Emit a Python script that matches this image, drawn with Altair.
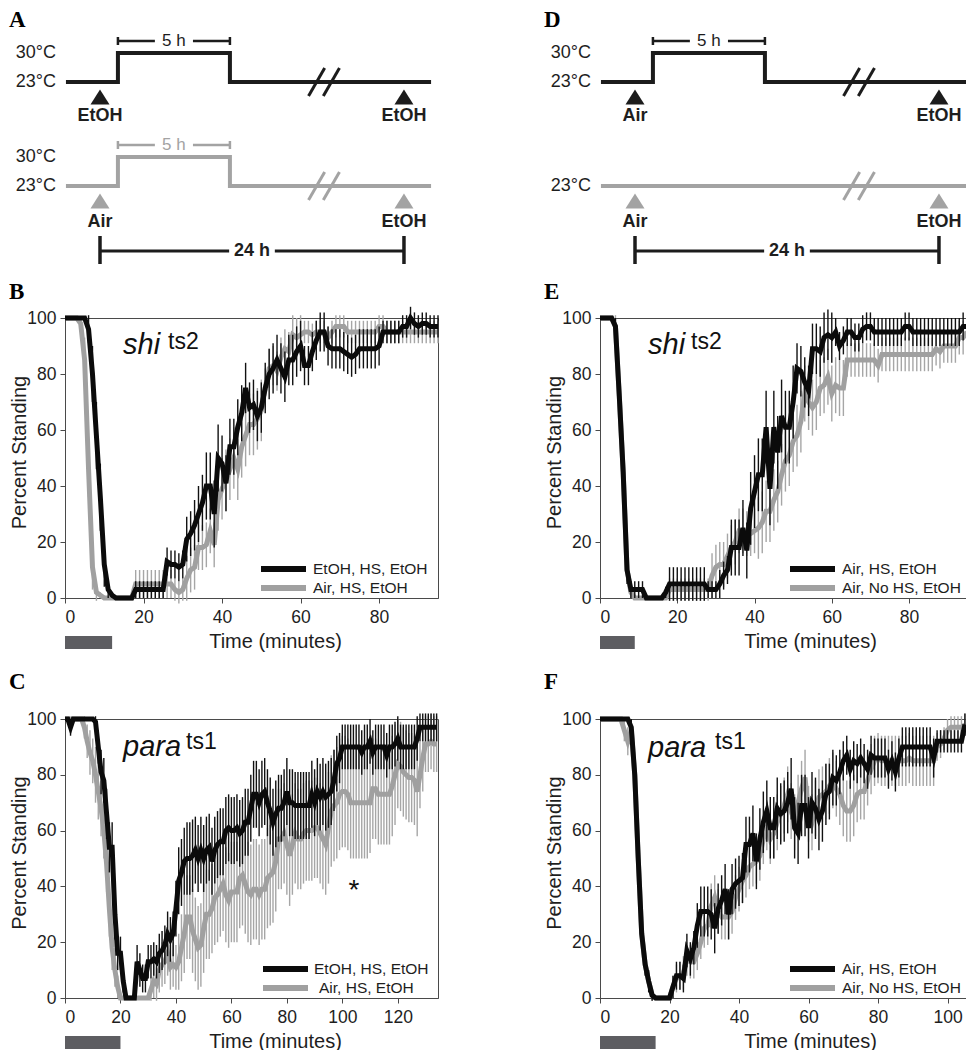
import altair as alt
import pandas as pd

SANS = "Liberation Sans"
SERIF = "Liberation Serif"
TXT = "#1e1e1e"
FRAME = "#4a4a4a"
BLACK = "#0b0b0b"
GRAY = "#a0a0a0"
BAR_BLACK = "#111111"
BAR_GRAY = "#a6a6a6"
HS_FILL = "#5d5d61"
SCH_BLACK = "#1c1c1c"
SCH_GRAY = "#a3a3a3"

# ---------------------------------------------------------------- data
B_names = ["EtOH, HS, EtOH", "Air, HS, EtOH"]
B_time = list(range(0, 96))
B_black = [100,100,100,100,100,100,96,80,58,36,
           12,3,1,0,0,0,0,0,3,3,
           3,3,3,3,3,3,13,12,12,11,
           12,21,23,26,30,34,40,40,30,50,
           48,41,54,54,61,66,75,68,69,65,
           68,75,80,82,85,82,79,85,85,88,
           90,83,83,88,92,95,95,90,89,89,
           89,88,87,86,87,89,89,89,89,89,
           90,95,95,95,95,95,97,97,100,98,
           97,98,98,97,97,97]
B_black_sem = [0,0,0,0,0,0,5,10,12,12,
               8,3,1,0,0,0,0,0,3,3,
               3,3,3,3,3,3,5,5,5,5,
               5,8,8,9,10,10,12,12,12,12,
               10,10,10,10,10,10,9,9,9,9,
               9,9,9,9,9,9,9,9,9,9,
               9,7,7,7,7,7,7,7,7,7,
               7,7,7,7,7,7,7,7,7,7,
               7,4,4,4,4,4,4,4,4,4,
               4,4,4,4,4,4]
B_gray = [100,100,100,100,98,85,46,11,2,1,
          0,0,0,0,0,0,0,0,5,5,
          5,5,5,5,5,5,5,5,3,2,
          3,7,10,11,18,18,19,24,19,35,
          39,42,46,50,46,54,58,62,62,64,
          67,75,82,83,81,86,89,88,94,93,
          94,95,95,94,95,95,95,93,95,97,
          97,97,95,95,95,95,95,95,95,95,
          97,97,95,95,95,95,95,95,95,95,
          95,95,95,95,95,95]
B_gray_sem = [0,0,0,0,2,8,10,8,3,1,
              0,0,0,0,0,0,0,0,5,5,
              5,5,5,5,5,5,5,5,4,4,
              4,8,8,8,8,8,8,8,8,11,
              11,11,11,11,11,11,11,11,11,11,
              11,7,7,7,7,7,7,7,7,7,
              7,4,4,4,4,4,4,4,4,4,
              4,4,4,4,4,4,4,4,4,4,
              4,4,4,4,4,4,4,4,4,4,
              4,4,4,4,4,4]
B_hs = [0, 12]

E_names = ["Air, HS, EtOH", "Air, No HS, EtOH"]
E_time = list(range(0, 96))
E_black = [100,100,100,100,97,72,45,10,3,3,
           3,3,0,0,0,0,0,2,5,5,
           5,5,5,5,5,5,5,5,3,3,
           3,5,8,10,18,18,18,25,17,32,
           38,44,44,61,39,61,52,65,61,61,
           70,82,81,77,74,89,89,88,93,94,
           93,95,90,92,95,95,93,93,96,97,
           97,95,95,95,95,95,95,95,95,97,
           97,95,95,95,95,95,95,95,95,95,
           95,95,95,95,97,97]
E_black_sem = [0,0,0,0,3,8,10,5,3,3,
               3,3,0,0,0,0,0,2,6,6,
               6,6,6,6,6,6,6,6,3,3,
               3,5,5,5,10,10,10,10,10,13,
               13,13,13,13,13,13,13,13,13,13,
               13,9,9,9,9,9,9,9,9,9,
               9,5,5,5,5,5,5,5,5,5,
               5,5,5,5,5,5,5,5,5,5,
               5,5,5,5,5,5,5,5,5,5,
               5,5,5,5,5,5]
E_gray = [100,100,100,100,97,72,45,10,2,0,
          0,0,0,0,0,0,0,0,3,3,
          3,3,3,3,3,3,3,3,3,8,
          11,12,12,15,18,20,24,24,23,23,
          24,25,27,31,31,35,38,44,49,51,
          56,58,63,73,70,68,70,75,76,79,
          73,76,75,75,85,85,85,85,85,85,
          85,85,83,87,87,87,87,87,87,87,
          87,87,87,87,87,87,87,89,88,90,
          90,90,90,93,93,95]
E_gray_sem = [0,0,0,0,4,4,4,4,2,0,
              0,0,0,0,0,0,0,0,4,4,
              4,4,4,4,4,4,4,4,4,8,
              8,8,8,8,8,8,8,8,8,8,
              8,11,11,11,11,11,11,11,11,11,
              11,11,11,10,10,10,10,10,10,10,
              10,10,10,10,6,6,6,6,6,6,
              6,6,6,6,6,6,6,6,6,6,
              6,6,6,6,6,6,6,6,6,6,
              6,6,6,6,6,6]
E_hs = [0, 9]

C_names = ["EtOH, HS, EtOH", "Air, HS, EtOH"]
C_time = list(range(0, 135))
C_black = [100,100,97,100,100,100,100,100,100,100,
           100,99,90,81,78,66,54,54,30,16,
           16,6,0,0,0,0,13,10,7,7,
           13,13,14,13,16,17,19,23,21,23,
           32,42,45,49,50,50,51,53,50,53,
           50,53,54,49,53,55,56,56,60,61,
           60,60,61,59,60,63,63,68,73,73,
           70,73,74,70,67,63,66,68,68,70,
           74,70,70,69,69,69,69,69,69,73,
           70,74,72,74,72,73,74,78,84,86,
           90,90,90,90,90,90,90,88,90,90,
           92,88,90,90,90,90,87,90,90,91,
           93,90,90,90,90,90,90,93,97,97,
           97,97,97,97,97]
C_black_sem = [0,0,3,0,0,0,0,0,0,0,
               0,2,6,8,8,9,9,9,9,6,
               6,4,0,0,0,0,6,6,5,5,
               6,6,6,6,7,7,7,8,8,8,
               10,12,12,12,13,13,13,12,12,12,
               12,12,12,12,12,12,12,12,12,12,
               12,12,12,12,12,12,12,12,12,12,
               12,12,12,12,12,12,12,12,12,12,
               12,12,12,12,12,12,12,12,12,12,
               12,12,12,12,12,12,12,11,10,9,
               8,8,8,8,8,8,8,8,8,8,
               8,8,8,8,8,8,8,8,8,8,
               8,8,8,8,8,8,8,8,5,5,
               5,5,5,5,5]
C_gray = [100,100,100,100,100,100,100,97,92,88,
          85,80,74,68,60,48,32,18,10,4,
          0,0,0,0,0,0,0,0,0,0,
          0,3,6,5,10,12,13,16,11,12,
          11,13,18,23,29,29,24,21,18,19,
          25,30,30,32,36,37,39,41,37,35,
          38,38,38,43,44,41,38,37,39,39,
          37,39,39,43,44,45,49,57,57,59,
          55,51,55,59,57,57,59,60,60,60,
          61,61,59,57,55,61,67,69,70,73,
          74,74,73,70,70,70,70,70,70,70,
          70,75,75,73,73,73,73,73,76,80,
          84,83,81,80,79,79,78,74,80,86,
          91,91,92,91,91]
C_gray_sem = [0,0,0,0,0,0,0,4,6,8,
              8,10,10,10,10,10,10,8,6,4,
              0,0,0,0,0,0,0,0,0,0,
              0,4,6,6,8,8,8,8,8,8,
              8,10,12,14,15,15,15,15,15,15,
              16,16,16,16,17,17,17,17,17,17,
              18,18,18,18,18,18,18,18,18,18,
              18,18,18,18,18,18,18,18,18,18,
              18,18,18,18,18,18,18,18,18,18,
              18,18,18,18,18,20,20,20,20,20,
              20,20,20,20,20,20,20,20,20,20,
              18,18,18,18,18,18,18,18,18,18,
              16,16,16,16,16,16,16,16,12,12,
              10,10,10,10,10]
C_hs = [0, 20]

F_names = ["Air, HS, EtOH", "Air, No HS, EtOH"]
F_time = list(range(0, 106))
F_black = [100,100,100,100,100,100,100,100,100,97,
           80,50,23,12,6,1,0,0,0,0,
           0,4,8,8,7,17,14,18,26,31,
           31,31,30,25,32,35,39,30,39,41,
           42,43,55,55,59,49,57,63,67,61,
           61,68,66,67,70,75,61,59,69,69,
           61,70,68,64,67,73,74,79,78,81,
           85,87,82,85,84,86,84,82,87,86,
           86,86,86,82,85,81,86,90,90,90,
           90,90,90,90,90,90,86,92,92,92,
           92,92,92,92,92,98]
F_black_sem = [0,0,0,0,0,0,0,0,0,3,
               4,4,4,4,4,2,0,0,0,0,
               0,4,5,5,5,6,6,6,8,9,
               9,9,9,9,9,9,9,9,9,9,
               9,9,10,10,10,10,11,11,11,11,
               11,11,11,11,11,11,11,11,11,11,
               11,11,11,11,11,11,10,10,9,8,
               7,7,7,7,7,7,7,7,7,7,
               7,7,7,7,7,7,7,7,7,7,
               7,7,7,7,7,7,7,4,4,4,
               4,4,4,4,4,4]
F_gray = [100,100,100,100,100,100,100,96,92,96,
          80,50,23,12,6,1,0,0,0,0,
          0,4,7,8,9,14,13,13,16,20,
          25,26,33,36,31,29,29,29,31,36,
          39,42,44,47,48,49,51,57,62,57,
          59,63,66,69,73,67,63,70,75,79,
          66,63,68,72,73,74,76,78,75,73,
          69,67,67,69,73,74,74,78,82,85,
          86,85,85,85,85,85,85,85,85,86,
          85,85,85,85,85,85,85,90,91,93,
          96,97,97,97,97,98]
F_gray_sem = [0,0,0,0,0,0,0,4,5,4,
              3,3,3,3,3,2,0,0,0,0,
              0,4,5,5,6,6,6,6,6,6,
              7,7,8,8,8,8,8,8,8,8,
              8,8,8,8,8,8,9,9,9,9,
              9,10,10,10,10,10,10,10,10,10,
              10,10,10,10,10,10,10,10,10,11,
              11,11,11,11,10,10,10,9,9,9,
              9,9,9,9,9,9,9,9,9,9,
              9,9,9,9,9,9,9,5,5,4,
              4,4,4,4,4,4]
F_hs = [0, 16]

sch_step_x = [-1.52, 0.80, 0.80, 5.80, 5.80, 14.78]
sch_step_temp = [23, 23, 30, 30, 23, 23]
sch_flat_x = [-1.52, 14.78]
sch_flat_temp = [23, 23]
sch_heat = [0.80, 5.80]
sch_break_x = [9.67, 10.33]
sch_events = [0.0, 13.57]
A_top_labels = ["EtOH", "EtOH"]
A_bot_labels = ["Air", "EtOH"]
D_top_labels = ["Air", "EtOH"]
D_bot_labels = ["Air", "EtOH"]
sch_interval = [0.0, 13.57]

# ---------------------------------------------------------------- layout
K = 29 / 7.0
U = 22.4
SCH_H = 160
TRI = "M0,-0.79L1,0.79L-1,0.79Z"
W_L, W_R = 373, 367
H_TOP, H_BOT = 280, 279


def sch_row(W, p23, line_x, line_t, temps, heat, ev_labels, color, label_dy,
            letter=None, interval=None):
    hi = 23 + p23 / K
    lo = hi - SCH_H / K
    ys = alt.Scale(domain=[lo, hi], nice=False, zero=False)
    xs = alt.Scale(domain=[-35 / U, (W - 35) / U], nice=False, zero=False)

    def X(f):
        return alt.X(f, type="quantitative", scale=xs, axis=None)

    def Y(f):
        return alt.Y(f, type="quantitative", scale=ys, axis=None)

    top = p23 - 45
    layers = []
    ldf = pd.DataFrame({"x": line_x, "temp": line_t, "o": list(range(len(line_x)))})
    layers.append(alt.Chart(ldf).mark_line(color=color, strokeWidth=4, strokeJoin="miter")
                  .encode(x=X("x"), y=Y("temp"), order="o:Q"))
    bdf = pd.DataFrame({"x": [b - 0.36 for b in sch_break_x],
                        "x2": [b + 0.36 for b in sch_break_x],
                        "y": [23 - 3.4] * 2, "y2": [23 + 3.4] * 2})
    layers.append(alt.Chart(bdf).mark_rule(color=color, strokeWidth=3)
                  .encode(x=X("x"), x2="x2", y=Y("y"), y2="y2"))
    tdf = pd.DataFrame({"temp": temps, "label": [f"{t}\u00b0C" for t in temps]})
    layers.append(alt.Chart(tdf).mark_text(align="right", baseline="middle", font=SANS,
                                           fontSize=18, color=TXT)
                  .encode(x=alt.value(-9), y=Y("temp"), text="label:N"))
    if heat is not None:
        h0, h1 = heat
        mid = (h0 + h1) / 2
        sdf = pd.DataFrame({"a": [h0, mid + 0.85], "b": [mid - 0.85, h1]})
        layers.append(alt.Chart(sdf).mark_rule(color=color, strokeWidth=2.5)
                      .encode(x=X("a"), x2="b", y=alt.value(top + 4)))
        kdf = pd.DataFrame({"a": [h0, h1]})
        layers.append(alt.Chart(kdf).mark_rule(color=color, strokeWidth=2.5)
                      .encode(x=X("a"), y=alt.value(top), y2=alt.value(top + 8)))
        mdf = pd.DataFrame({"a": [mid], "label": ["5 h"]})
        layers.append(alt.Chart(mdf).mark_text(font=SANS, fontSize=17, baseline="middle",
                                               align="center", color=color)
                      .encode(x=X("a"), y=alt.value(top + 4), text="label:N"))
    edf = pd.DataFrame({"a": sch_events, "label": ev_labels})
    layers.append(alt.Chart(edf).mark_point(shape=TRI, size=361, filled=True, color=color,
                                            opacity=1, strokeWidth=0)
                  .encode(x=X("a"), y=alt.value(top + 60)))
    layers.append(alt.Chart(edf).mark_text(font=SANS, fontSize=18, fontWeight="bold",
                                           align="center", baseline="alphabetic", color=TXT)
                  .encode(x=X("a"), y=alt.value(top + label_dy), text="label:N"))
    if interval is not None:
        a0, a1 = interval
        mid = (a0 + a1) / 2
        sdf = pd.DataFrame({"a": [a0, mid + 1.02], "b": [mid - 1.02, a1]})
        layers.append(alt.Chart(sdf).mark_rule(color=SCH_BLACK, strokeWidth=3)
                      .encode(x=X("a"), x2="b", y=alt.value(top + 110)))
        kdf = pd.DataFrame({"a": [a0, a1]})
        layers.append(alt.Chart(kdf).mark_rule(color=SCH_BLACK, strokeWidth=3.5)
                      .encode(x=X("a"), y=alt.value(top + 95), y2=alt.value(top + 123)))
        mdf = pd.DataFrame({"a": [mid], "label": ["24 h"]})
        layers.append(alt.Chart(mdf).mark_text(font=SANS, fontSize=18, fontWeight="bold",
                                               baseline="middle", align="center", color=TXT)
                      .encode(x=X("a"), y=alt.value(top + 110), text="label:N"))
    if letter is not None:
        gdf = pd.DataFrame({"letter": [letter]})
        layers.append(alt.Chart(gdf).mark_text(font=SERIF, fontSize=23, fontWeight="bold",
                                               align="left", baseline="top", color="#000")
                      .encode(x=alt.value(-56), y=alt.value(-28), text="letter:N"))
    return alt.layer(*layers)


def schematic(W, letter, top_labels, bot_labels, bottom_heated):
    top = sch_row(W, 45, sch_step_x, sch_step_temp, [30, 23], sch_heat, top_labels,
                  SCH_BLACK, 84, letter=letter)
    if bottom_heated:
        bot = sch_row(W, 149, sch_step_x, sch_step_temp, [30, 23], sch_heat, bot_labels,
                      SCH_GRAY, 86, interval=sch_interval)
    else:
        bot = sch_row(W, 149, sch_flat_x, sch_flat_temp, [23], None, bot_labels,
                      SCH_GRAY, 86, interval=sch_interval)
    return (alt.layer(top, bot).resolve_scale(y="independent")
            .properties(width=W, height=SCH_H,
                        view=alt.ViewBackground(stroke="transparent")))


def frame(time, mean, sem):
    return pd.DataFrame({"t": time, "mean": mean,
                         "lo": [m - s for m, s in zip(mean, sem)],
                         "hi": [m + s for m, s in zip(mean, sem)]})


def curve_panel(time, names, black, black_sem, gray, gray_sem, hs, xmax, xticks, W, H,
                letter, letter_dy, geno, sup, gpos, spos, leg_x, leg_tx, star=None):
    xs = alt.Scale(domain=[0, xmax], nice=False, zero=False)
    ys = alt.Scale(domain=[0, 100], nice=False, zero=False)
    xa = alt.Axis(values=xticks, title="Time (minutes)", titleX=210, titleY=33,
                  titleBaseline="top", titleAlign="center", tickSize=5, labelPadding=5,
                  labelFontSize=17.5, titleFontSize=20, grid=False)
    ya = alt.Axis(values=[0, 20, 40, 60, 80, 100], title="Percent Standing", titleX=-36,
                  titleY=H / 2 - 6, titleAngle=270, titleBaseline="bottom", titleAlign="center",
                  tickSize=5, labelPadding=4, labelFontSize=17.5, titleFontSize=20, grid=False)
    X = alt.X("t:Q", scale=xs, axis=xa)
    layers = []
    for mean, sem, lc, bc in [(gray, gray_sem, GRAY, BAR_GRAY), (black, black_sem, BLACK, BAR_BLACK)]:
        df = frame(time, mean, sem)
        layers.append(alt.Chart(df).mark_rule(color=bc, strokeWidth=1.4)
                      .encode(x=X, y=alt.Y("lo:Q", scale=ys, axis=ya), y2="hi:Q"))
        layers.append(alt.Chart(df).mark_line(color=lc, strokeWidth=5)
                      .encode(x=X, y=alt.Y("mean:Q", scale=ys, axis=ya)))
    hdf = pd.DataFrame({"start": [hs[0]], "end": [hs[1]]})
    layers.append(alt.Chart(hdf).mark_rect(color=HS_FILL)
                  .encode(x=alt.X("start:Q", scale=xs, axis=xa), x2="end:Q",
                          y=alt.value(H + 38), y2=alt.value(H + 51)))
    for i, (name, col) in enumerate(zip(names, [BLACK, GRAY])):
        ndf = pd.DataFrame({"label": [name]})
        ly = H - 29 + 19 * i
        layers.append(alt.Chart(ndf).mark_rule(color=col, strokeWidth=6)
                      .encode(x=alt.value(leg_x), x2=alt.value(leg_x + 45), y=alt.value(ly)))
        layers.append(alt.Chart(ndf).mark_text(font=SANS, fontSize=15.5, align="left",
                                               baseline="middle", color=TXT)
                      .encode(x=alt.value(leg_tx[i]), y=alt.value(ly), text="label:N"))
    gdf = pd.DataFrame({"g": [geno], "s": [sup], "letter": [letter]})
    layers.append(alt.Chart(gdf).mark_text(font=SANS, fontSize=29, fontStyle="italic",
                                           align="left", baseline="alphabetic", color="#111")
                  .encode(x=alt.value(gpos[0]), y=alt.value(gpos[1]), text="g:N"))
    layers.append(alt.Chart(gdf).mark_text(font=SANS, fontSize=23, align="left",
                                           baseline="alphabetic", color="#111")
                  .encode(x=alt.value(spos[0]), y=alt.value(spos[1]), text="s:N"))
    layers.append(alt.Chart(gdf).mark_text(font=SERIF, fontSize=23, fontWeight="bold",
                                           align="left", baseline="top", color="#000")
                  .encode(x=alt.value(-56), y=alt.value(letter_dy), text="letter:N"))
    if star is not None:
        sdf = pd.DataFrame({"s": ["*"]})
        layers.append(alt.Chart(sdf).mark_text(font=SANS, fontSize=28, align="center",
                                               baseline="alphabetic", color="#111")
                      .encode(x=alt.value(star[0]), y=alt.value(star[1]), text="s:N"))
    return alt.layer(*layers).properties(width=W, height=H)


schem_A = schematic(W_L, "A", A_top_labels, A_bot_labels, True)
schem_D = schematic(W_R, "D", D_top_labels, D_bot_labels, False)

panel_B = curve_panel(B_time, B_names, B_black, B_black_sem, B_gray, B_gray_sem, B_hs,
                      95, [0, 20, 40, 60, 80], W_L, H_TOP, "B", -37, "shi", "ts2",
                      (58, 36), (103, 31), 196, [248, 248])
panel_E = curve_panel(E_time, E_names, E_black, E_black_sem, E_gray, E_gray_sem, E_hs,
                      95, [0, 20, 40, 60, 80], W_R, H_TOP, "E", -37, "shi", "ts2",
                      (48, 36), (91, 31), 190, [242, 242])
panel_C = curve_panel(C_time, C_names, C_black, C_black_sem, C_gray, C_gray_sem, C_hs,
                      134.5, [0, 20, 40, 60, 80, 100, 120], W_L, H_BOT, "C", -48, "para", "ts1",
                      (58, 37), (121, 30), 198, [249, 254], star=(289, 180))
panel_F = curve_panel(F_time, F_names, F_black, F_black_sem, F_gray, F_gray_sem, F_hs,
                      105.6, [0, 20, 40, 60, 80, 100], W_R, H_BOT, "F", -48, "para", "ts1",
                      (48, 38), (115, 30), 190, [242, 242])

chart = (alt.concat(schem_A, schem_D, panel_B, panel_E, panel_C, panel_F, columns=2,
                    spacing={"row": 121, "column": 162}, bounds="flush")
         .properties(padding={"top": 0, "left": 0, "right": -12, "bottom": 0})
         .configure_view(stroke=FRAME, strokeWidth=1)
         .configure_axis(labelFont=SANS, titleFont=SANS, labelColor=TXT, titleColor=TXT,
                         titleFontWeight="normal", domainColor=FRAME, tickColor=FRAME,
                         domainWidth=1, tickWidth=1))

chart.save("out.html", embed_options={"renderer": "svg", "actions": False})
